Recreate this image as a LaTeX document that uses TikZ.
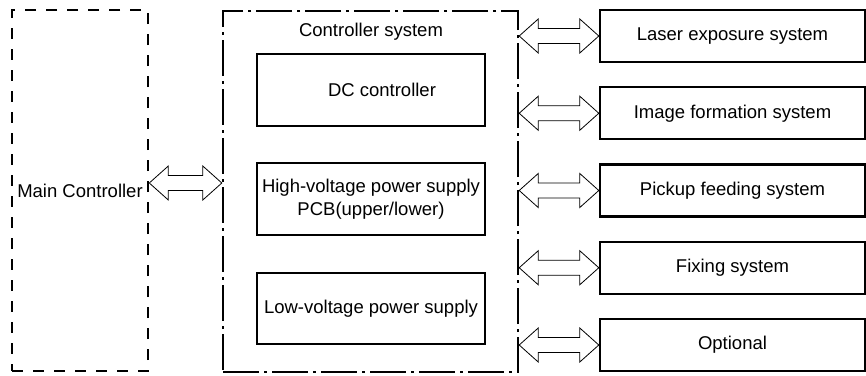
\documentclass[tikz,border=0pt]{standalone}
\usepackage{fontspec}
\setmainfont{Liberation Sans}
\usetikzlibrary{positioning,calc}
\tikzset{
  mainbox/.style = {draw, line width=2.6pt, dash pattern=on 11pt off 10pt,
                    minimum width=136, minimum height=361, inner sep=0pt},
  ctrlbox/.style = {draw, line width=2.4pt, dash pattern=on 36pt off 5pt on 3pt off 5pt,
                    minimum width=295, minimum height=361},
  partbox/.style = {draw, line width=2.4pt, minimum width=228, minimum height=72,
                    align=center},
  sysbox/.style  = {draw, line width=2.4pt, minimum width=265, minimum height=52},
  busline/.style = {draw, line width=0.8pt, fill=white, line join=miter}
}
\begin{document}
\begin{tikzpicture}[x=1pt,y=-1pt,font=\fontsize{18.5}{23}\selectfont]
  \useasboundingbox (0,0) rectangle (866,375);
  % double arrow between two points on one line
  \def\bus#1#2{%
    \coordinate (l) at (#1);
    \coordinate (r) at (#2);
    \draw[busline] (l) -- ($(l)+(19,-17)$) -- ($(l)+(19,-7.5)$)
      -- ($(r)+(-19,-7.5)$) -- ($(r)+(-19,-17)$) -- (r)
      -- ($(r)+(-19,17)$) -- ($(r)+(-19,7.5)$)
      -- ($(l)+(19,7.5)$) -- ($(l)+(19,17)$) -- cycle;
  }

  \node[mainbox] (main) at (80,190.5) {Main Controller};
  \node[ctrlbox] (ctrl) at (370.5,191.5) {};
  \node (title) at (371,32) {Controller system};

  \node[partbox] (dc) at (371,90) {\hspace*{22pt}DC controller};
  \node[partbox] (hv) at (371,199) {High-voltage power supply\\PCB(upper/lower)};
  \node[partbox, minimum height=71] (lv) at (371,308.5) {Low-voltage power supply};

  \foreach \name/\txt [count=\i] in {
    laser/Laser exposure system,
    image/Image formation system,
    pickup/Pickup feeding system,
    fixing/Fixing system,
    optional/Optional
  }{
    \node[sysbox] (\name) at (732.5,{36+77.25*(\i-1)}) {\txt};
  }

  \coordinate (link) at (0,183);
  \bus{main.east |- link}{ctrl.west |- link}
  \foreach \name in {laser,image,pickup,fixing,optional}{
    \bus{ctrl.east |- \name}{\name.west}
  }
\end{tikzpicture}
\end{document}
